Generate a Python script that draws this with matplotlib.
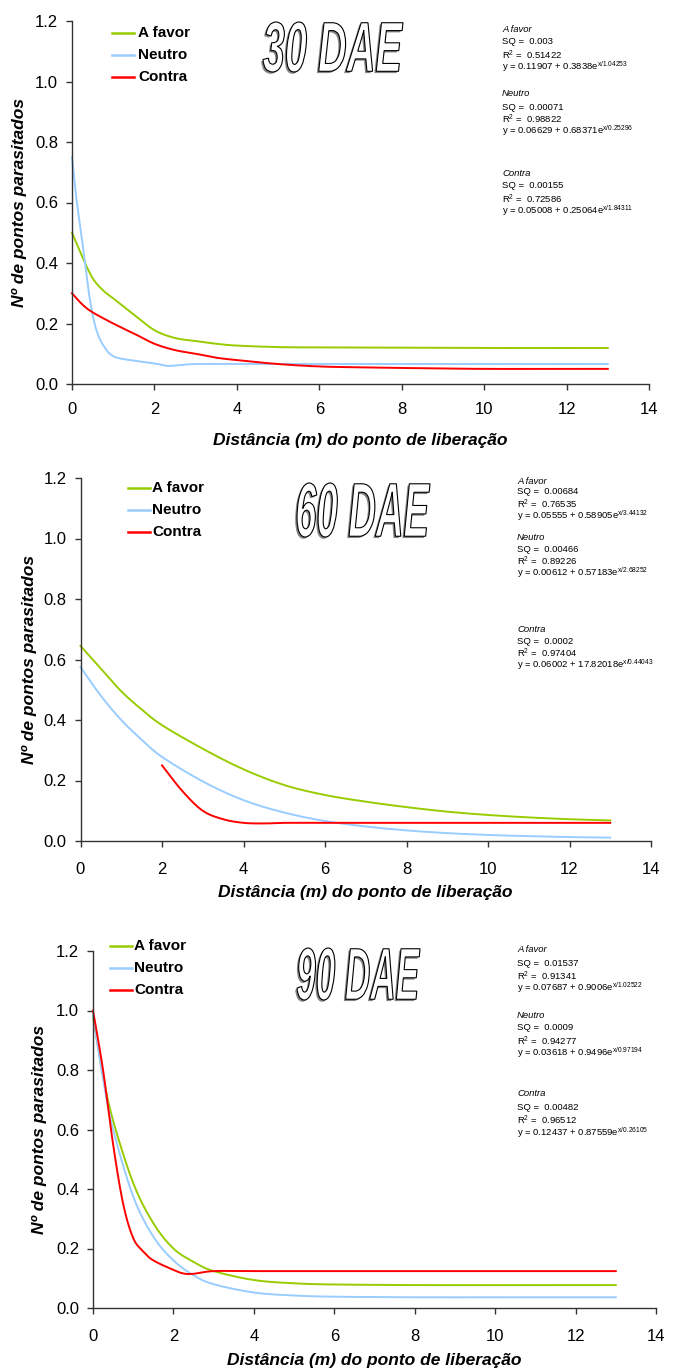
import matplotlib
matplotlib.use("Agg")
import numpy as np
import matplotlib.pyplot as plt
from matplotlib.textpath import TextPath
from matplotlib.patches import PathPatch
from matplotlib.font_manager import FontProperties
from matplotlib.transforms import Affine2D
import matplotlib.patheffects as pe

plt.rcParams['font.family'] = ['Liberation Sans', 'DejaVu Sans']
plt.rcParams['mathtext.fontset'] = 'custom'
plt.rcParams['mathtext.rm'] = 'Liberation Sans'

W, H = 677, 1372

series_names = ['A favor', 'Neutro', 'Contra']
series_colors = ['#99cc00', '#99ccff', '#ff0000']

# 30 DAE
x30_favor = [0, 0.25, 0.5, 0.75, 1, 1.5, 2, 2.5, 3, 3.5, 4, 5, 6, 8, 10, 13]
y30_favor = [0.50, 0.42, 0.35, 0.31, 0.283, 0.23, 0.178, 0.152, 0.142, 0.133, 0.127, 0.122, 0.121, 0.120, 0.119, 0.119]
x30_neutro = [0, 0.1, 0.25, 0.4, 0.5, 0.6, 0.75, 1, 1.5, 2, 2.3, 2.5, 3, 4, 6, 8, 10, 13]
y30_neutro = [0.75, 0.62, 0.47, 0.31, 0.23, 0.175, 0.13, 0.092, 0.077, 0.068, 0.060, 0.061, 0.066, 0.066, 0.066, 0.066, 0.066, 0.066]
x30_contra = [0, 0.25, 0.5, 1, 1.5, 2, 2.5, 3, 3.5, 4, 5, 6, 7, 8, 10, 13]
y30_contra = [0.30, 0.263, 0.237, 0.20, 0.167, 0.133, 0.112, 0.100, 0.087, 0.079, 0.066, 0.058, 0.055, 0.053, 0.050, 0.050]

# 60 DAE
x60_favor = [0, 0.5, 1, 1.5, 2, 3, 4, 5, 6, 7, 8, 9, 10, 11, 12, 13]
y60_favor = [0.645, 0.57, 0.495, 0.435, 0.383, 0.305, 0.237, 0.185, 0.152, 0.130, 0.112, 0.097, 0.086, 0.078, 0.072, 0.068]
x60_neutro = [0, 0.5, 1, 1.5, 2, 3, 4, 5, 6, 7, 8, 9, 10, 11, 12, 13]
y60_neutro = [0.575, 0.48, 0.40, 0.335, 0.278, 0.197, 0.135, 0.094, 0.066, 0.048, 0.035, 0.026, 0.020, 0.016, 0.013, 0.011]
x60_contra = [2, 2.5, 3, 3.5, 4, 4.5, 5, 6, 8, 10, 13]
y60_contra = [0.25, 0.165, 0.10, 0.072, 0.060, 0.058, 0.060, 0.060, 0.060, 0.060, 0.060]

# 90 DAE
x90_favor = [0, 0.25, 0.5, 1, 1.5, 2, 2.5, 3, 4, 5, 6, 8, 10, 13]
y90_favor = [0.98, 0.78, 0.63, 0.42, 0.285, 0.20, 0.155, 0.124, 0.094, 0.083, 0.079, 0.077, 0.077, 0.077]
x90_neutro = [0, 0.25, 0.5, 1, 1.5, 2, 2.5, 3, 4, 5, 6, 8, 10, 13]
y90_neutro = [0.985, 0.77, 0.60, 0.375, 0.24, 0.16, 0.11, 0.08, 0.052, 0.042, 0.038, 0.036, 0.036, 0.036]
x90_contra = [0, 0.25, 0.5, 0.75, 1, 1.25, 1.5, 2, 2.25, 2.5, 3, 4, 6, 8, 10, 13]
y90_contra = [1.0, 0.80, 0.55, 0.35, 0.235, 0.19, 0.16, 0.128, 0.116, 0.115, 0.124, 0.124, 0.124, 0.124, 0.124, 0.124]

titles = ['30 DAE', '60 DAE', '90 DAE']

eq30 = [('A favor', '0.003', '0.51422', '0.11907 + 0.3838', 'x/1.04253'),
        ('Neutro', '0.00071', '0.98822', '0.06629 + 0.68371', 'x/0.25296'),
        ('Contra', '0.00155', '0.72586', '0.05008 + 0.25064', 'x/1.84311')]
eq60 = [('A favor', '0.00684', '0.76535', '0.05555 + 0.58905', 'x/3.44132'),
        ('Neutro', '0.00466', '0.89226', '0.00612 + 0.57183', 'x/2.68252'),
        ('Contra', '0.0002', '0.97404', '0.06002 + 17.82018', 'x/0.44043')]
eq90 = [('A favor', '0.01537', '0.91341', '0.07687 + 0.9006', 'x/1.02522'),
        ('Neutro', '0.0009', '0.94277', '0.03618 + 0.9496', 'x/0.97194'),
        ('Contra', '0.00482', '0.96512', '0.12437 + 0.87559', 'x/0.26105')]

fig = plt.figure(figsize=(W / 100, H / 100), dpi=100)


def fx(px):
    return px / W


def fy(py):
    return 1 - py / H


def smooth(xs, ys, n=16):
    # Catmull-Rom curve through the points, like a spreadsheet "smoothed line"
    x = np.asarray(xs, float)
    y = np.asarray(ys, float)
    px = np.concatenate([[2 * x[0] - x[1]], x, [2 * x[-1] - x[-2]]])
    py = np.concatenate([[2 * y[0] - y[1]], y, [2 * y[-1] - y[-2]]])
    t = np.linspace(0, 1, n, endpoint=False)
    ox, oy = [], []
    for i in range(1, len(px) - 2):
        for arr, out in ((px, ox), (py, oy)):
            p0, p1, p2, p3 = arr[i - 1], arr[i], arr[i + 1], arr[i + 2]
            out.extend(0.5 * (2 * p1 + (-p0 + p2) * t + (2 * p0 - 5 * p1 + 4 * p2 - p3) * t ** 2
                              + (-p0 + 3 * p1 - 3 * p2 + p3) * t ** 3))
    ox.append(x[-1])
    oy.append(y[-1])
    return ox, oy


def make_axes(left, right, top, bottom, xpad, xlab_y, ylab_x):
    ax = fig.add_axes([fx(left), fy(bottom), fx(right - left), (bottom - top) / H])
    ax.set_xlim(0, 14)
    ax.set_ylim(0, 1.2)
    ax.set_xticks(range(0, 15, 2))
    ax.set_yticks([0, 0.2, 0.4, 0.6, 0.8, 1.0, 1.2])
    ax.set_yticklabels(['0.0', '0.2', '0.4', '0.6', '0.8', '1.0', '1.2'])
    for s in ['top', 'right']:
        ax.spines[s].set_visible(False)
    for s in ['left', 'bottom']:
        ax.spines[s].set_color('#333333')
        ax.spines[s].set_linewidth(1.0)
    ax.tick_params(direction='out', length=4, width=1, color='#333333', labelsize=12)
    ax.tick_params(axis='x', pad=xpad)
    ax.tick_params(axis='y', pad=6)
    ax.set_xlabel('Distância (m) do ponto de liberação', fontsize=12.5, fontweight='bold', fontstyle='italic')
    ax.set_ylabel('Nº de pontos parasitados', fontsize=12.5, fontweight='bold', fontstyle='italic')
    h = bottom - top
    w = right - left
    ax.xaxis.set_label_coords(0.5, (bottom - xlab_y) / h)
    ax.xaxis.label.set_va('center')
    ax.yaxis.set_label_coords((ylab_x - left) / w, 0.5)
    ax.yaxis.label.set_va('center')
    ax.patch.set_visible(False)
    return ax


def draw_title(text, x0, x1, y0, y1):
    tp = TextPath((0, 0), text, size=100,
                  prop=FontProperties(family='Liberation Sans', weight='bold', style='italic'))
    ext = tp.get_extents()
    sx = (x1 - x0) / ext.width
    sy = (y1 - y0) / ext.height
    tr = (Affine2D().translate(-ext.x0, -ext.y0).scale(sx, sy)
          .translate(x0, H - y1).scale(1 / 100) + fig.dpi_scale_trans)
    patch = PathPatch(tp, facecolor='white', edgecolor='black', lw=0.8, transform=tr)
    patch.set_path_effects([pe.SimplePatchShadow(offset=(-1.3, -1.3), shadow_rgbFace='#666666', alpha=0.8),
                            pe.Normal()])
    fig.add_artist(patch)


def draw_legend(x_line, x_text, rows):
    for name, color, ry in zip(series_names, series_colors, rows):
        fig.add_artist(plt.Line2D([fx(x_line), fx(x_line + 22)], [fy(ry), fy(ry)],
                                  color=color, lw=1.8, transform=fig.transFigure))
        fig.text(fx(x_text), fy(ry), name, fontsize=11, fontweight='bold', va='center', ha='left')


def draw_equations(x, rows, eqs):
    fs = 6.8
    for (name, sq, r2, base, expo), (ya, yb, yc, yd) in zip(eqs, rows):
        fig.text(fx(x), fy(ya), name, fontsize=fs, fontstyle='italic', va='center')
        fig.text(fx(x), fy(yb), 'SQ =  ' + sq, fontsize=fs, va='center')
        fig.text(fx(x), fy(yc), r'R$\mathregular{^2}$ =  ' + r2, fontsize=fs, va='center')
        fig.text(fx(x), fy(yd), 'y = ' + base + 'e$\\mathregular{^{' + expo + '}}$', fontsize=fs, va='center')


panels = [
    dict(box=(72, 649, 21, 384), xpad=9, xlab_y=440, ylab_x=20,
         data=[(x30_favor, y30_favor), (x30_neutro, y30_neutro), (x30_contra, y30_contra)],
         title=(263, 403, 22, 72), legend=(112, 138, [33, 55, 77]),
         eq_x=502, eq_rows=[(30, 42, 55, 67), (94, 107, 119, 131), (173, 185, 199, 211)], eqs=eq30),
    dict(box=(80.5, 651, 478, 841), xpad=11, xlab_y=893, ylab_x=30,
         data=[(x60_favor, y60_favor), (x60_neutro, y60_neutro), (x60_contra, y60_contra)],
         title=(297, 430, 483, 537), legend=(128, 152, [488, 510, 532]),
         eq_x=517, eq_rows=[(481, 492, 504, 516), (538, 549, 561, 573), (630, 641, 653, 665)], eqs=eq60),
    dict(box=(93, 656, 951, 1308), xpad=11, xlab_y=1360, ylab_x=40,
         data=[(x90_favor, y90_favor), (x90_neutro, y90_neutro), (x90_contra, y90_contra)],
         title=(297, 420, 948, 1000), legend=(110, 134, [946, 968, 990]),
         eq_x=517, eq_rows=[(949, 963, 976, 988), (1016, 1028, 1041, 1053), (1093, 1107, 1120, 1133)], eqs=eq90),
]

for p, title in zip(panels, titles):
    ax = make_axes(*p['box'], p['xpad'], p['xlab_y'], p['ylab_x'])
    for (xs, ys), color in zip(p['data'], series_colors):
        sx, sy = smooth(xs, ys)
        ax.plot(sx, sy, color=color, lw=1.4, solid_joinstyle='round', clip_on=False)
    draw_title(title, *p['title'])
    draw_legend(*p['legend'])
    draw_equations(p['eq_x'], p['eq_rows'], p['eqs'])

fig.savefig('out.png', dpi=100)
